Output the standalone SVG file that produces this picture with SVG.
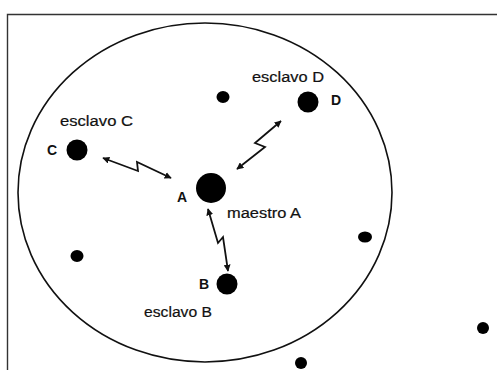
<svg xmlns="http://www.w3.org/2000/svg" width="497" height="370" viewBox="0 0 497 370">
<style>
.lbl{font-family:"Liberation Sans",Arial,sans-serif;font-size:14px;fill:#111;stroke:#111;stroke-width:0.2}
.big{font-family:"Liberation Sans",Arial,sans-serif;font-size:14px;font-weight:bold;fill:#111}
.dot{fill:#000}
.lnk{fill:none;stroke:#111;stroke-width:1.8;stroke-linejoin:miter}
</style>
<defs>
<marker id="ah" viewBox="0 0 10 10" refX="9" refY="5" markerWidth="7" markerHeight="7" markerUnits="userSpaceOnUse" orient="auto-start-reverse">
<path d="M0,0 L10,5 L0,10 z" fill="#111"/>
</marker>
</defs>
<rect width="497" height="370" fill="#fff"/>
<g id="frame">
<path d="M7.5,370 L7.5,14.5 L497,14.5" fill="none" stroke="#333" stroke-width="1.4"/>
</g>
<g id="range">
<ellipse cx="205" cy="192.5" rx="187" ry="169.5" fill="none" stroke="#111" stroke-width="1.6"/>
</g>
<g id="connectors">
<path class="lnk" d="M103,158 L138,171 L137,162 L171,178" marker-start="url(#ah)" marker-end="url(#ah)"/>
<path class="lnk" d="M281,121 L255,143 L265,147 L237,169" marker-start="url(#ah)" marker-end="url(#ah)"/>
<path class="lnk" d="M208,209 L218,243 L223,237 L228,271" marker-start="url(#ah)" marker-end="url(#ah)"/>
</g>
<g id="nodeA">
<circle class="dot" cx="211" cy="188" r="15"/>
<text class="big" x="177" y="202">A</text>
<text class="lbl" x="227" y="218" textLength="74" lengthAdjust="spacingAndGlyphs">maestro A</text>
</g>
<g id="nodeB">
<circle class="dot" cx="227" cy="284" r="10.5"/>
<text class="big" x="199" y="289">B</text>
<text class="lbl" x="144" y="317" textLength="68" lengthAdjust="spacingAndGlyphs">esclavo B</text>
</g>
<g id="nodeC">
<circle class="dot" cx="77" cy="150" r="10.5"/>
<text class="big" x="47" y="155">C</text>
<text class="lbl" x="60" y="126" textLength="73" lengthAdjust="spacingAndGlyphs">esclavo C</text>
</g>
<g id="nodeD">
<circle class="dot" cx="308" cy="102" r="10.5"/>
<text class="big" x="331" y="105">D</text>
<text class="lbl" x="252" y="82" textLength="72" lengthAdjust="spacingAndGlyphs">esclavo D</text>
</g>
<g id="others">
<ellipse class="dot" cx="223" cy="97" rx="6.5" ry="6"/>
<ellipse class="dot" cx="77" cy="256" rx="6.5" ry="6"/>
<ellipse class="dot" cx="365" cy="237" rx="7" ry="5.5"/>
<ellipse class="dot" cx="483" cy="328" rx="6" ry="6"/>
<ellipse class="dot" cx="301" cy="363" rx="6" ry="6"/>
</g>
</svg>
